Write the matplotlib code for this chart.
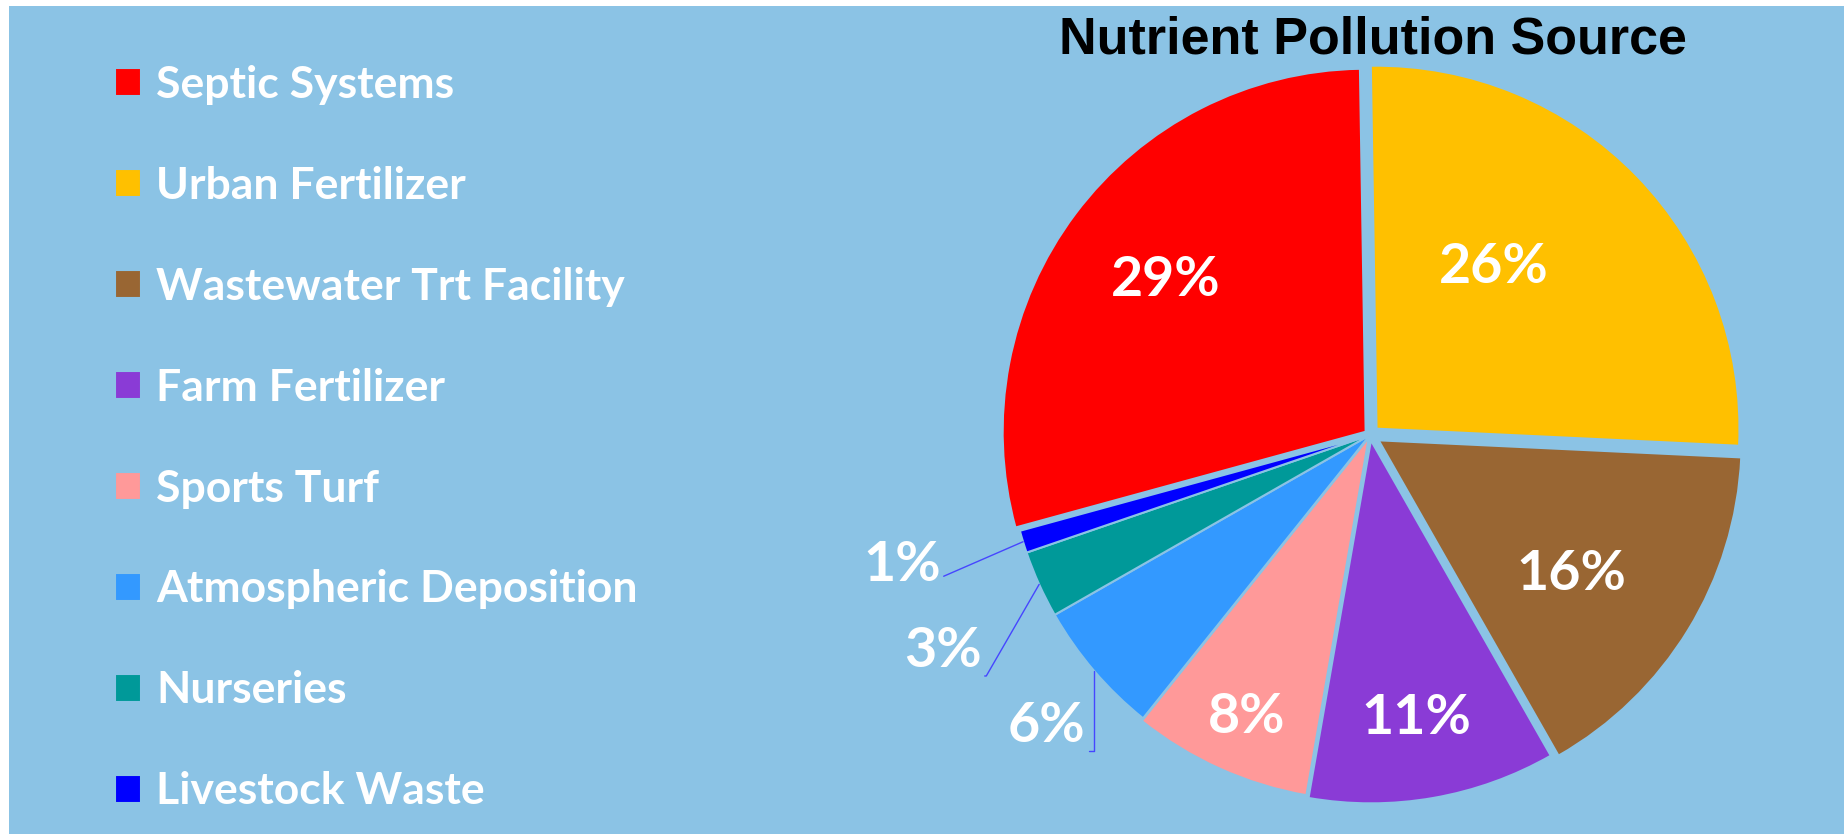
import numpy as np
import matplotlib
matplotlib.use("Agg")
import matplotlib.pyplot as plt
from matplotlib.patches import Rectangle

sources = ["Septic Systems", "Urban Fertilizer", "Wastewater Trt Facility", "Farm Fertilizer",
           "Sports Turf", "Atmospheric Deposition", "Nurseries", "Livestock Waste"]
shares = [29, 26, 16, 11, 8, 6, 3, 1]
colors = ["#ff0000", "#ffc000", "#996633", "#8a3bd6", "#ff9999", "#3399ff", "#009999", "#0000ff"]
explode = [0.015, 0.025, 0.028, 0.015, 0.008, 0, 0, 0]

# where the % labels sit, in pie units (centre 0,0 radius 1)
inner_xy = [(-0.562, 0.427), (0.342, 0.462), (0.556, -0.383), (0.129, -0.780), (-0.339, -0.777)]
outer_xy = [(-0.890, -0.802), (-1.176, -0.595), (-1.289, -0.358)]
outer_bend = [90, 60, 23.5]

BG = "#8bc3e5"
W, H = 1847, 834
R = 363            # pie radius in px
cx, cy = 1370, 435  # pie centre in px (from top)

fig = plt.figure(figsize=(W / 100, H / 100), dpi=100)
fig.patch.set_facecolor("white")
fig.patches.append(Rectangle((9 / W, 0), (1844 - 9) / W, (H - 6) / H, transform=fig.transFigure,
                             facecolor=BG, edgecolor="none", zorder=-5))

ax = fig.add_axes([0, 0, 1, 1])
wedges, _ = ax.pie(shares, colors=colors, explode=explode, startangle=195.3, counterclock=False,
                   radius=1, wedgeprops=dict(edgecolor=BG, linewidth=1.5))
ax.set_xlim(-cx / R, (W - cx) / R)
ax.set_ylim(-(H - cy) / R, cy / R)
ax.set_aspect("equal")
ax.axis("off")

lbl = dict(color="white", fontsize=40, fontweight="bold", family="Lato", ha="center", va="center")
for i, v in enumerate(shares):
    txt = f"{v}%"
    if i < 5:
        ax.text(inner_xy[i][0], inner_xy[i][1], txt, **lbl)
    else:
        w = wedges[i]
        mid = np.deg2rad((w.theta1 + w.theta2) / 2)
        ax.annotate(txt, xy=(np.cos(mid), np.sin(mid)), xytext=outer_xy[i - 5],
                    arrowprops=dict(arrowstyle="-", color="#4646ff", lw=1, shrinkA=0, shrinkB=0,
                                    relpos=(1, 0),
                                    connectionstyle=f"angle,angleA=0,angleB={outer_bend[i - 5]},rad=0"),
                    **lbl)

ax.legend(wedges, sources, loc="upper left", bbox_to_anchor=(115 / W, 1 - 65 / H),
          bbox_transform=fig.transFigure, frameon=False,
          prop=dict(family="Lato", weight="bold", size=32), labelcolor="white",
          handlelength=0.59, handleheight=0.59, handletextpad=0.34, labelspacing=1.37,
          borderpad=0, borderaxespad=0)

fig.text(1373 / W, 1 - 53 / H, "Nutrient Pollution Source", ha="center", va="baseline",
         fontsize=37.5, fontweight="bold", family="Liberation Sans", color="black")

fig.savefig("out.png", dpi=100, facecolor=fig.get_facecolor())
